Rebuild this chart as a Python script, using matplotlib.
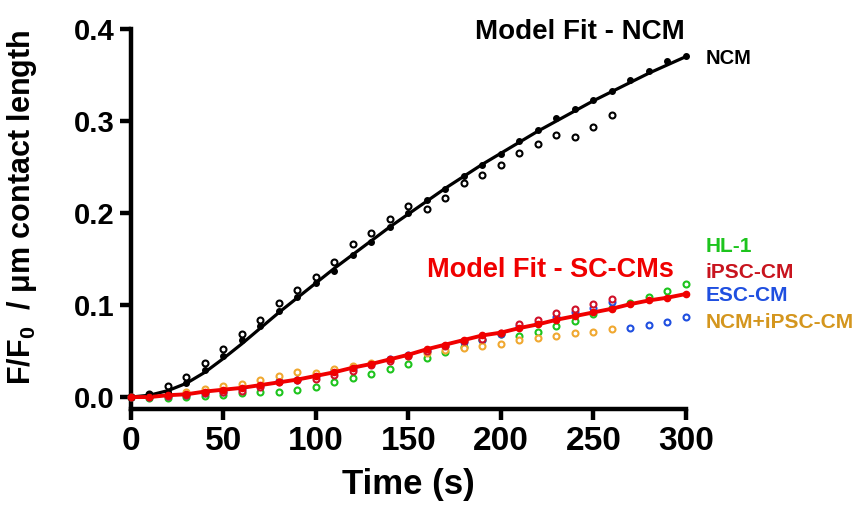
import matplotlib
matplotlib.use('Agg')
import matplotlib.pyplot as plt

plt.rcParams['font.family'] = ['Liberation Sans', 'DejaVu Sans']
plt.rcParams['font.weight'] = 'bold'
plt.rcParams['mathtext.fontset'] = 'custom'
plt.rcParams['mathtext.bf'] = 'Liberation Sans:bold'
plt.rcParams['mathtext.rm'] = 'Liberation Sans:bold'
plt.rcParams['mathtext.default'] = 'bf'

# time points (s)
t_full = list(range(0, 301, 10))
t_short = list(range(0, 261, 10))

# NCM data and fit
ncm_filled = [0.000, 0.002, 0.005, 0.015, 0.029, 0.045, 0.062, 0.077, 0.093, 0.109,
              0.124, 0.137, 0.154, 0.168, 0.185, 0.200, 0.214, 0.226, 0.240, 0.252,
              0.264, 0.278, 0.290, 0.303, 0.313, 0.323, 0.333, 0.345, 0.354, 0.365, 0.371]
ncm_fit = [0.000, 0.002, 0.007, 0.015, 0.027, 0.042, 0.058, 0.075, 0.092, 0.108,
           0.124, 0.140, 0.155, 0.170, 0.185, 0.199, 0.213, 0.227, 0.240, 0.253,
           0.265, 0.277, 0.289, 0.300, 0.311, 0.322, 0.332, 0.342, 0.352, 0.361, 0.370]
ncm_open = [0.000, 0.003, 0.012, 0.022, 0.037, 0.052, 0.069, 0.084, 0.102, 0.116,
            0.131, 0.147, 0.166, 0.178, 0.194, 0.208, 0.204, 0.216, 0.233, 0.241,
            0.252, 0.265, 0.275, 0.285, 0.283, 0.294, 0.307]

# SC-CM fit
sc_fit = [0.000, 0.000, 0.002, 0.003, 0.006, 0.008, 0.010, 0.013, 0.016, 0.019,
          0.023, 0.027, 0.032, 0.036, 0.041, 0.046, 0.052, 0.057, 0.062, 0.067,
          0.070, 0.075, 0.079, 0.084, 0.088, 0.092, 0.096, 0.101, 0.105, 0.108, 0.112]

hl1 = [0.000, -0.001, -0.001, 0.000, 0.001, 0.002, 0.004, 0.005, 0.006, 0.008,
       0.011, 0.016, 0.021, 0.025, 0.030, 0.036, 0.042, 0.049, 0.054, 0.062,
       0.068, 0.066, 0.071, 0.077, 0.083, 0.090, 0.097, 0.102, 0.109, 0.115, 0.123]
ipsc = [0.000, 0.000, 0.001, 0.002, 0.004, 0.005, 0.007, 0.011, 0.016, 0.018,
        0.020, 0.024, 0.028, 0.035, 0.039, 0.045, 0.050, 0.055, 0.061, 0.063,
        0.070, 0.079, 0.084, 0.091, 0.096, 0.101, 0.107]
esc = [0.000, 0.000, 0.001, 0.002, 0.004, 0.006, 0.009, 0.012, 0.017, 0.019,
       0.023, 0.029, 0.031, 0.036, 0.041, 0.046, 0.050, 0.055, 0.060, 0.062,
       0.068, 0.077, 0.081, 0.087, 0.092, 0.097, 0.103, 0.075, 0.078, 0.082, 0.087]
ncm_ipsc = [0.000, 0.001, 0.003, 0.005, 0.009, 0.012, 0.014, 0.018, 0.023, 0.027,
            0.026, 0.030, 0.034, 0.037, 0.040, 0.045, 0.048, 0.051, 0.053, 0.055,
            0.058, 0.062, 0.064, 0.066, 0.070, 0.071, 0.074]

green = '#1DC41D'
dark_red = '#D01028'
blue = '#1F4FE0'
orange = '#F0A830'
gold_text = '#D4961E'

fig = plt.figure(figsize=(8.67, 5.18), dpi=100)
ax = fig.add_axes([0.1511, 0.2104, 0.640, 0.7336])

ms_open = dict(marker='o', linestyle='none', markersize=4.3, markerfacecolor='white',
               markeredgewidth=1.5, clip_on=False)

ax.plot(t_full, hl1, markeredgecolor=green, zorder=3, **ms_open)
ax.plot(t_full, esc, markeredgecolor=blue, zorder=3, **ms_open)
ax.plot(t_short, ncm_ipsc, markeredgecolor=orange, zorder=3, **ms_open)
ax.plot(t_short, ipsc, markeredgecolor=dark_red, zorder=3, **ms_open)
ax.plot(t_short, ncm_open, markeredgecolor='black', zorder=3, **ms_open)

ax.plot(t_full, ncm_fit, color='black', linewidth=2.3, zorder=4, clip_on=False)
ax.plot(t_full, ncm_filled, 'o', color='black', markersize=4, zorder=5, clip_on=False)
ax.plot(t_full, sc_fit, color='#F00000', linewidth=2.8, zorder=4, clip_on=False)
ax.plot(t_full, sc_fit, 'o', color='#F00000', markersize=4.5, zorder=5, clip_on=False)

ax.set_xlim(0, 300)
ax.set_ylim(-0.013, 0.4)
ax.set_xticks(range(0, 301, 50))
ax.set_yticks([0.0, 0.1, 0.2, 0.3, 0.4])
ax.set_yticklabels(['0.0', '0.1', '0.2', '0.3', '0.4'])

for side in ['top', 'right']:
    ax.spines[side].set_visible(False)
for side in ['left', 'bottom']:
    ax.spines[side].set_linewidth(3.2)

ax.tick_params(axis='both', direction='out', length=8, width=3.2)
ax.tick_params(axis='y', labelsize=21, pad=4)
ax.tick_params(axis='x', labelsize=24, pad=4)

ax.set_xlabel('Time (s)', fontsize=25, fontweight='bold', labelpad=8)
ax.set_ylabel('F/F$_0$  / \u03bcm contact length', fontsize=22, fontweight='bold')
ax.yaxis.set_label_coords(-0.165, 0.53)

ax.text(242.7, 0.397, 'Model Fit - NCM', fontsize=20, fontweight='bold',
        color='black', ha='center', va='center')
ax.text(310.8, 0.368, 'NCM', fontsize=14.5, fontweight='bold',
        color='black', ha='left', va='center')
ax.text(226.5, 0.138, 'Model Fit - SC-CMs', fontsize=19.5, fontweight='bold',
        color='#F00000', ha='center', va='center')

ax.text(310.8, 0.164, 'HL-1', fontsize=15, fontweight='bold', color=green, va='center')
ax.text(310.8, 0.135, 'iPSC-CM', fontsize=15, fontweight='bold', color='#C8141E', va='center')
ax.text(310.8, 0.110, 'ESC-CM', fontsize=15, fontweight='bold', color=blue, va='center')
ax.text(310.8, 0.081, 'NCM+iPSC-CM', fontsize=15, fontweight='bold', color=gold_text, va='center')

fig.savefig('out.png', dpi=100)
